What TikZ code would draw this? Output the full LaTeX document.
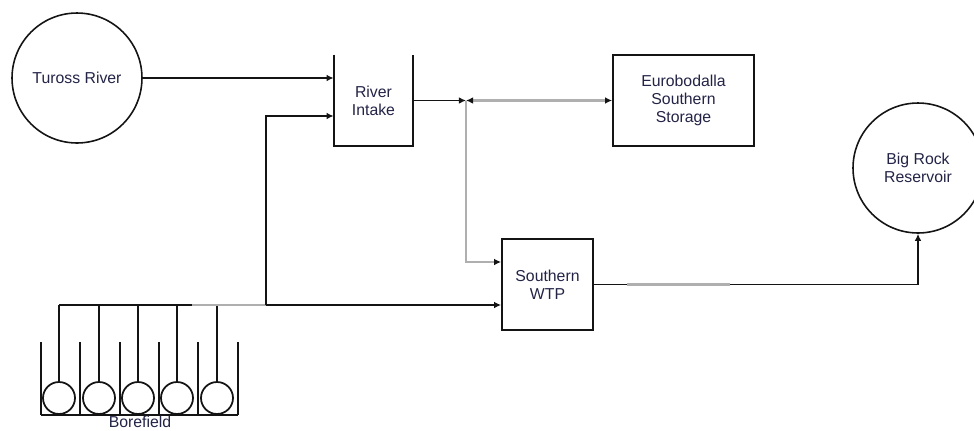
\documentclass[tikz,border=0pt]{standalone}
\usepackage{fontspec}
\setmainfont{Liberation Sans}
\usetikzlibrary{arrows.meta,calc}
\definecolor{wsline}{RGB}{20,20,20}
\definecolor{wsgray}{RGB}{175,175,175}
\definecolor{wstext}{RGB}{35,35,70}

\begin{document}
\begin{tikzpicture}[x=0.02cm,y=-0.02cm,
    every node/.style={font=\fontsize{9}{10.3}\selectfont,text=wstext,align=center,inner sep=0pt},
    pipe/.style={draw=wsline,line width=1pt},
    feed/.style={pipe,-{Latex[length=4pt,width=3.8pt]}},
    grayfeed/.style={draw=wsgray,line width=1.6pt},
    unit/.style={draw=wsline,line width=1pt,minimum height=1.82cm},
    source/.style={circle,draw=wsline,line width=0.9pt,minimum size=2.6cm}]
  \useasboundingbox (0,0) rectangle (974,430);
  \node[source] (tuross) at (77,78) {Tuross River};
  \node[source] (bigrock) at (918,168) {Big Rock\\Reservoir};
  \node[minimum width=1.58cm,minimum height=1.82cm] (intake) at (373.5,100.5) {River\\Intake};
  \draw[pipe] (intake.north west) -- (intake.south west) -- (intake.south east) -- (intake.north east);
  \node[unit,minimum width=2.82cm] (storage) at (683.5,100.5) {Eurobodalla\\Southern\\Storage};
  \node[unit,minimum width=1.82cm] (wtp) at (547.5,284.5) {Southern\\WTP};
  % borefield
  \foreach \x in {59,99,138,177,217} {
    \draw[pipe] (\x,305) -- (\x,382);
    \draw[pipe] (\x,398) circle[radius=0.32cm];
  }
  \foreach \x in {41,80,120,159,198,238}
    \draw[pipe] (\x,342) -- (\x,415);
  \draw[pipe] (41,415) -- (238,415);
  \node[anchor=north] (bore) at (140,415.5) {Borefield};
  \coordinate (split) at (266,305);
  \coordinate (tee) at (466,100.5);
  \draw[pipe] (59,305) -- (split);
  \draw[grayfeed] (192,305) -- (split);
  % connectors
  \draw[feed] (tuross.east) -- (tuross.east -| intake.west);
  \draw[feed] (split) |- ($(intake.west)+(0,15.5)$);
  \draw[feed] (split) -- (split -| wtp.west);
  \draw[feed] (intake.east) -- (tee);
  \draw[grayfeed,{Latex[length=4pt,width=3.8pt,fill=wsline,color=wsline]}-{Latex[length=4pt,width=3.8pt,fill=wsline,color=wsline]}] (tee) -- (storage.west);
  \draw[grayfeed,-{Latex[length=4pt,width=3.8pt,fill=wsline,color=wsline]}] (tee) |- ($(wtp.west)+(0,-22.5)$);
  \draw[feed] (wtp.east) -| (bigrock.south);
  \draw[grayfeed] (627,284.5) -- (730,284.5);
\end{tikzpicture}
\end{document}
